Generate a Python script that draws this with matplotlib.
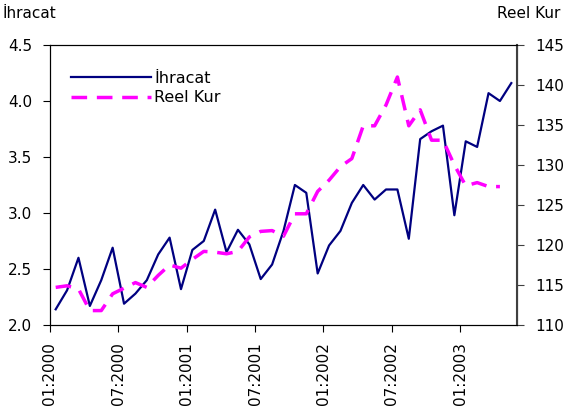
import numpy as np
import matplotlib.pyplot as plt

plt.rcParams.update({'font.size': 10, 'font.family': 'DejaVu Sans'})

# monthly data 01:2000 - 05:2003
ihracat = [2.14, 2.31, 2.60, 2.17, 2.40, 2.69, 2.19, 2.28, 2.40, 2.63,
           2.78, 2.32, 2.67, 2.75, 3.03, 2.65, 2.85, 2.72, 2.41, 2.54,
           2.84, 3.25, 3.18, 2.46, 2.71, 2.84, 3.09, 3.25, 3.12, 3.21,
           3.21, 2.77, 3.66, 3.73, 3.78, 2.98, 3.64, 3.59, 4.07, 4.00,
           4.16]
reel_kur = [114.7, 114.9, 114.5, 111.8, 111.8, 113.9, 114.6, 115.3, 114.7, 116.2,
            117.5, 117.1, 118.2, 119.2, 119.1, 118.9, 119.2, 121.0, 121.7, 121.8,
            121.1, 123.9, 123.9, 126.7, 128.1, 129.8, 130.8, 134.9, 134.9, 137.5,
            141.0, 134.9, 136.9, 133.1, 133.1, 130.0, 127.4, 127.8, 127.3, 127.3,
            np.nan]
tick_labels = ['01:2000', '07:2000', '01:2001', '07:2001', '01:2002', '07:2002', '01:2003']

x = np.arange(len(ihracat))

fig = plt.figure(figsize=(5.63, 4.16), dpi=100)
ax = fig.add_axes([0.0888, 0.2188, 0.8295, 0.673])
ax2 = ax.twinx()

l1, = ax.plot(x, ihracat, color='#000080', lw=1.6, label='İhracat')
l2, = ax2.plot(x, reel_kur, color='#FF00FF', lw=2.5, dashes=(4.5, 2.8), label='Reel Kur')

ax.set_xlim(-0.5, len(x) - 0.5)
ax.set_ylim(2.0, 4.5)
ax.set_yticks(np.arange(2.0, 4.51, 0.5))
ax.set_yticklabels(['%.1f' % v for v in np.arange(2.0, 4.51, 0.5)])
ax2.set_ylim(110, 145)
ax2.set_yticks(range(110, 146, 5))

ax.set_xticks(np.arange(-0.5, len(x) - 0.5, 6))
ax.set_xticklabels(tick_labels, rotation=90)

ax.tick_params(axis='x', length=5, pad=7, labelsize=11)
ax.tick_params(axis='y', length=5, pad=8, labelsize=11)
ax2.tick_params(axis='y', length=5, pad=8, labelsize=11, color='#404040')
ax2.spines['right'].set_color('#404040')
ax2.spines['right'].set_linewidth(1.5)

ax.legend([l1, l2], ['İhracat', 'Reel Kur'], loc='upper left', bbox_to_anchor=(0.015, 0.96),
          frameon=False, handlelength=5.0, handletextpad=0.2, labelspacing=0.3, fontsize=11.5)

fig.text(0.005, 0.967, 'İhracat', fontsize=11, ha='left', va='center')
fig.text(0.995, 0.967, 'Reel Kur', fontsize=11, ha='right', va='center')

fig.savefig('out.png', dpi=100)
